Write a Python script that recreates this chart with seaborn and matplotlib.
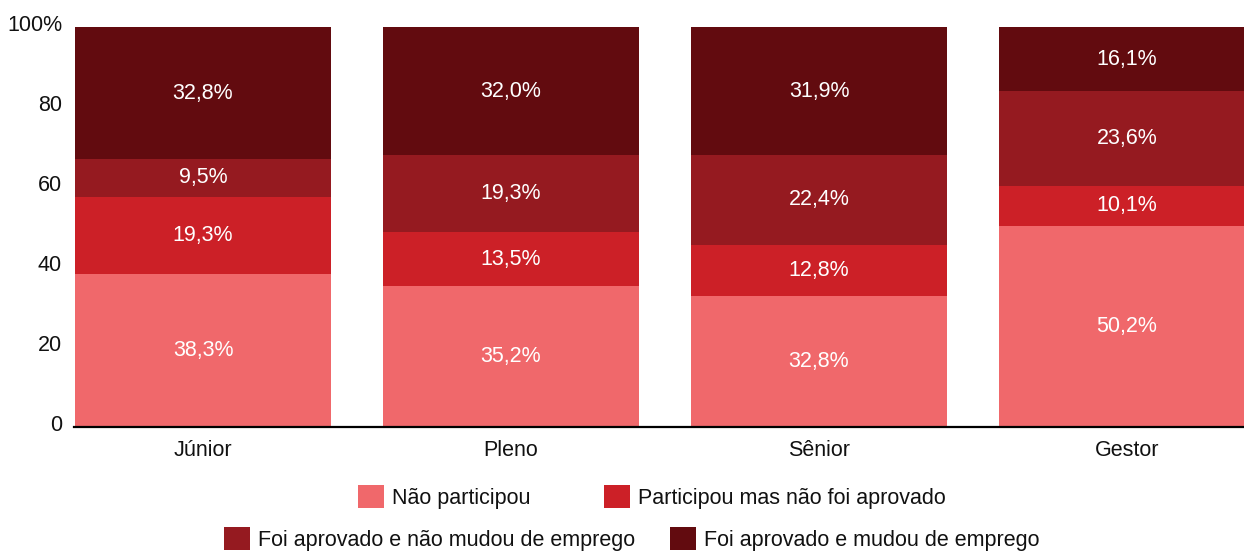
import matplotlib
matplotlib.use("Agg")
import matplotlib.pyplot as plt
import matplotlib.transforms as mtransforms
import seaborn as sns
import numpy as np
import pandas as pd
from matplotlib.patches import Patch

# data (percent of each group)
niveis = ["Júnior", "Pleno", "Sênior", "Gestor"]
nao_participou = [38.3, 35.2, 32.8, 50.2]
participou_nao_aprovado = [19.3, 13.5, 12.8, 10.1]
aprovado_nao_mudou = [9.5, 19.3, 22.4, 23.6]
aprovado_mudou = [32.8, 32.0, 31.9, 16.1]

series_names = [
    "Não participou",
    "Participou mas não foi aprovado",
    "Foi aprovado e não mudou de emprego",
    "Foi aprovado e mudou de emprego",
]
colors = ["#F0686B", "#CC2027", "#951A20", "#620B0F"]

sns.set_style("white")
plt.rcParams["font.family"] = ["Liberation Sans", "DejaVu Sans"]
FS = 15.5

layers = [nao_participou, participou_nao_aprovado, aprovado_nao_mudou, aprovado_mudou]
cum = np.cumsum(np.array(layers), axis=0)

fig = plt.figure(figsize=(12.44, 5.52), dpi=100)
ax = fig.add_axes([74 / 1244, 125 / 552, 1170 / 1244, 400 / 552])

# stacked bars: draw cumulative totals from the top layer down
for i in reversed(range(len(layers))):
    df = pd.DataFrame({"nivel": niveis, "valor": cum[i]})
    sns.barplot(data=df, x="nivel", y="valor", order=niveis, color=colors[i],
                width=0.831, linewidth=0, saturation=1, ax=ax)

# segment labels
for i, layer in enumerate(layers):
    for j, v in enumerate(layer):
        mid = cum[i][j] - v / 2
        ax.text(j, mid, f"{v:.1f}".replace(".", ",") + "%", ha="center",
                va="center", color="white", fontsize=FS)

ax.set_xlim(-0.419, 3.38)
ax.set_ylim(0, 100)
ax.set_yticks([0, 20, 40, 60, 80, 100])
ax.set_yticklabels(["0", "20", "40", "60", "80", "100%"])
ax.set_xlabel("")
ax.set_ylabel("")
ax.tick_params(axis="y", length=0, pad=8.6, labelsize=FS, labelcolor="#111111")
ax.tick_params(axis="x", length=0, pad=9, labelsize=FS, labelcolor="#111111")

# y labels sit a few pixels above their gridline in the reference
shift = mtransforms.ScaledTranslation(0, 4 / 100, fig.dpi_scale_trans)
for lbl in ax.get_yticklabels():
    lbl.set_transform(lbl.get_transform() + shift)

for s in ["left", "right", "top"]:
    ax.spines[s].set_visible(False)
ax.spines["bottom"].set_color("black")
ax.spines["bottom"].set_linewidth(1.6)
ax.spines["bottom"].set_zorder(5)

# legend in two separately centred rows
handles = [Patch(facecolor=c, edgecolor="none") for c in colors]
leg_kw = dict(loc="center", frameon=False, ncol=2, fontsize=FS,
              handlelength=1.2, handleheight=1.3, handletextpad=0.4,
              borderpad=0, borderaxespad=0)
leg1 = fig.legend(handles[:2], series_names[:2], bbox_to_anchor=(652 / 1244, 1 - 497 / 552),
                  columnspacing=3.4, **leg_kw)
leg2 = fig.legend(handles[2:], series_names[2:], bbox_to_anchor=(632 / 1244, 1 - 539 / 552),
                  columnspacing=1.6, **leg_kw)
for leg in (leg1, leg2):
    for t in leg.get_texts():
        t.set_color("#111111")

fig.savefig("out.png", dpi=100)
